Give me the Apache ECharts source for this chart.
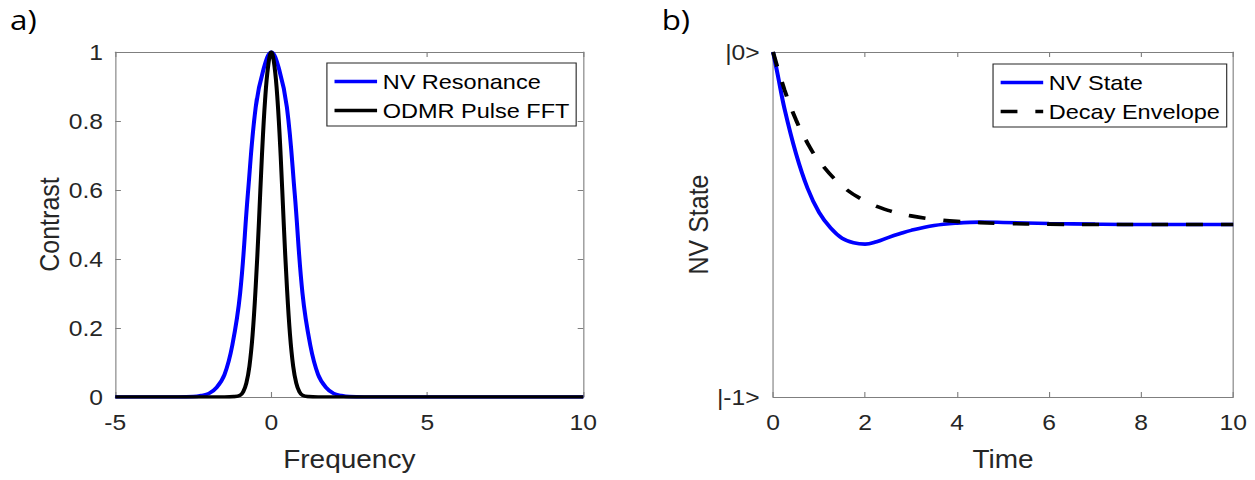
<!DOCTYPE html>
<html>
<head>
<meta charset="utf-8">
<script src="https://cdn.jsdelivr.net/npm/echarts@6/dist/echarts.min.js"></script>
<style>
  html, body { margin: 0; padding: 0; width: 1255px; height: 480px; overflow: hidden; background: #fff; }
  /* The figure is laid out on a narrower canvas and widened to the page width. */
  #chart { width: 1121px; height: 480px; transform: scaleX(1.11954); transform-origin: 0 0; }
</style>
</head>
<body>
<div id="chart"></div>
<script>
// ---- Panel a: spectral overlap ----
const freqNV = [-5, -3, -2.5, -2.25, -2, -1.75, -1.5, -1.25, -1, -0.75, -0.5, -0.25, 0,
                0.25, 0.5, 0.75, 1, 1.25, 1.5, 1.75, 2, 2.25, 2.5, 3, 10];
const contrastNV = [0, 0, 0.001, 0.004, 0.01, 0.028, 0.065, 0.15, 0.3, 0.59, 0.84, 0.95, 1,
                    0.95, 0.84, 0.59, 0.3, 0.15, 0.065, 0.028, 0.01, 0.004, 0.001, 0, 0];

const freqPulse = [-5, -1.5, -1.2, -1, -0.9, -0.8, -0.7, -0.6, -0.5, -0.4, -0.3, -0.2, -0.1, 0,
                   0.1, 0.2, 0.3, 0.4, 0.5, 0.6, 0.7, 0.8, 0.9, 1, 1.2, 1.5, 10];
const contrastPulse = [0, 0, 0.001, 0.005, 0.015, 0.04, 0.09, 0.18, 0.32, 0.5, 0.7, 0.86, 0.96, 1,
                       0.96, 0.86, 0.7, 0.5, 0.32, 0.18, 0.09, 0.04, 0.015, 0.005, 0.001, 0, 0];

const freqTicks = [-5, 0, 5, 10];
const contrastTicks = [0, 0.2, 0.4, 0.6, 0.8, 1];

// ---- Panel b: state evolution ----
const timeState = [0, 0.1, 0.25, 0.5, 0.75, 1, 1.25, 1.5, 1.75, 2, 2.25, 2.5, 2.75, 3,
                   3.5, 4, 4.5, 5, 6, 7, 8, 9, 10];
const nvState = [0, -0.065, -0.165, -0.295, -0.395, -0.465, -0.51, -0.54, -0.553, -0.557,
                 -0.55, -0.538, -0.527, -0.517, -0.503, -0.496, -0.493, -0.494, -0.497,
                 -0.499, -0.5, -0.5, -0.5];

const timeEnv = [0, 0.25, 0.5, 0.75, 1, 1.5, 2, 2.5, 3, 3.5, 4, 5, 6, 7, 8, 9, 10];
const decayEnv = [0, -0.11, -0.197, -0.264, -0.316, -0.388, -0.432, -0.459, -0.475, -0.485,
                  -0.491, -0.497, -0.499, -0.5, -0.5, -0.5, -0.5];

const timeTicks = [0, 2, 4, 6, 8, 10];
const stateTicks = [-1, 0];
const stateTickLabels = ['|-1>', '|0>'];

const FONT = 'Liberation Sans, Arial, Helvetica, sans-serif';
const INK = '#262626';
const FRAME = '#7f7f7f';
const LINE_W = 3.6;

const zip = (xs, ys) => xs.map((x, i) => [x, ys[i]]);

function frameAxis(extra) {
  return Object.assign({
    type: 'value',
    splitLine: { show: false },
    axisLine: { show: true, onZero: false, lineStyle: { color: FRAME, width: 1 } },
    axisTick: { show: true, inside: true, length: 5, lineStyle: { color: FRAME, width: 1 } },
    axisLabel: { show: false },
    nameTextStyle: { fontFamily: FONT, fontSize: 25, color: INK }
  }, extra);
}
const tickLabel = (margin, formatter, padding) => ({
  show: true, margin: margin, fontFamily: FONT, fontSize: 22, color: INK,
  formatter: formatter, padding: padding || 0
});

const legendBase = {
  orient: 'vertical',
  itemWidth: 38,
  itemHeight: 14,
  itemGap: 8,
  padding: [8, 6, 5, 5],
  borderColor: INK,
  borderWidth: 1,
  borderRadius: 0,
  backgroundColor: '#fff',
  selectedMode: false,
  itemStyle: { opacity: 0, borderWidth: 0 },
  lineStyle: { width: LINE_W },
  textStyle: { fontFamily: FONT, fontSize: 21, color: '#000', lineHeight: 21 }
};

const option = {
  animation: false,
  backgroundColor: '#fff',
  title: [
    { text: 'a)', left: 4, top: 0,
      textStyle: { fontFamily: 'Open Sans', fontSize: 28, fontWeight: 'normal', color: '#000' } },
    { text: 'b)', left: 586, top: 0,
      textStyle: { fontFamily: 'Open Sans', fontSize: 28, fontWeight: 'normal', color: '#000' } }
  ],
  grid: [
    { left: 103, top: 52, width: 418, height: 345 },
    { left: 690.5, top: 52, width: 411, height: 345 }
  ],
  xAxis: [
    frameAxis({ gridIndex: 0, position: 'bottom', min: freqTicks[0], max: freqTicks[freqTicks.length - 1],
      interval: 5, name: 'Frequency', nameLocation: 'middle', nameGap: 50,
      axisLabel: tickLabel(14) }),
    frameAxis({ gridIndex: 0, position: 'top', min: freqTicks[0], max: freqTicks[freqTicks.length - 1],
      interval: 5 }),
    frameAxis({ gridIndex: 1, position: 'bottom', min: timeTicks[0], max: timeTicks[timeTicks.length - 1],
      interval: 2, name: 'Time', nameLocation: 'middle', nameGap: 50,
      axisLabel: tickLabel(14) }),
    frameAxis({ gridIndex: 1, position: 'top', min: timeTicks[0], max: timeTicks[timeTicks.length - 1],
      interval: 2 })
  ],
  yAxis: [
    frameAxis({ gridIndex: 0, position: 'left', min: contrastTicks[0], max: contrastTicks[contrastTicks.length - 1],
      interval: 0.2, name: 'Contrast', nameLocation: 'middle', nameGap: 46,
      axisLabel: tickLabel(11, null, [5, 0, 0, 0]) }),
    frameAxis({ gridIndex: 0, position: 'right', min: contrastTicks[0], max: contrastTicks[contrastTicks.length - 1],
      interval: 0.2 }),
    frameAxis({ gridIndex: 1, position: 'left', min: stateTicks[0], max: stateTicks[1],
      interval: 1, name: 'NV State', nameLocation: 'middle', nameGap: 53,
      axisLabel: tickLabel(12, v => stateTickLabels[stateTicks.indexOf(Math.round(v))], [7, 0, 0, 0]) }),
    frameAxis({ gridIndex: 1, position: 'right', min: stateTicks[0], max: stateTicks[1],
      interval: 1 })
  ],
  legend: [
    Object.assign({}, legendBase, { left: 292, top: 63, data: ['NV Resonance', 'ODMR Pulse FFT'] }),
    Object.assign({}, legendBase, { left: 887, top: 64, data: ['NV State', 'Decay Envelope'] })
  ],
  series: [
    { name: 'NV Resonance', type: 'line', xAxisIndex: 0, yAxisIndex: 0,
      data: zip(freqNV, contrastNV), smooth: 0.4, symbol: 'none',
      lineStyle: { color: '#0000ff', width: LINE_W }, itemStyle: { color: '#0000ff' } },
    { name: 'ODMR Pulse FFT', type: 'line', xAxisIndex: 0, yAxisIndex: 0,
      data: zip(freqPulse, contrastPulse), smooth: 0.4, symbol: 'none',
      lineStyle: { color: '#000000', width: LINE_W }, itemStyle: { color: '#000000' } },
    { name: 'NV State', type: 'line', xAxisIndex: 2, yAxisIndex: 2,
      data: zip(timeState, nvState), smooth: 0.4, symbol: 'none',
      lineStyle: { color: '#0000ff', width: LINE_W }, itemStyle: { color: '#0000ff' } },
    { name: 'Decay Envelope', type: 'line', xAxisIndex: 2, yAxisIndex: 2,
      data: zip(timeEnv, decayEnv), smooth: 0.4, symbol: 'none',
      lineStyle: { color: '#000000', width: LINE_W, type: [15, 16], cap: 'butt' },
      itemStyle: { color: '#000000' } }
  ]
};

const chart = echarts.init(document.getElementById('chart'), null, { renderer: 'svg' });
chart.setOption(option);
</script>
</body>
</html>
